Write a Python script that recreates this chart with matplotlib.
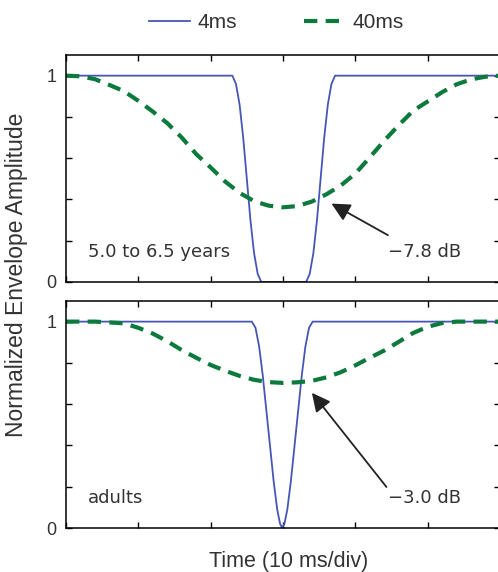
import numpy as np
import matplotlib as mpl
mpl.use('Agg')
import matplotlib.pyplot as plt

plt.rcParams['font.family'] = ['Liberation Sans', 'DejaVu Sans']

# time axis in ms (10 ms per division), amplitudes
t_4ms_child = [0, 23.0, 23.5, 24.0, 24.5, 25.0, 25.5, 26.0, 26.5, 27.0,
               33.2, 33.7, 34.2, 34.7, 35.2, 35.7, 36.2, 36.7, 37.2, 60]
a_4ms_child = [1, 1, 0.96, 0.86, 0.70, 0.50, 0.30, 0.14, 0.04, 0,
               0, 0.04, 0.14, 0.30, 0.50, 0.70, 0.86, 0.96, 1, 1]

t_40ms_child = [0, 2, 4, 6, 8, 10, 12, 14, 16, 18, 20, 22, 24, 26, 28, 30,
                32, 34, 36, 38, 40, 42, 44, 46, 48, 50, 52, 54, 56, 58, 60]
a_40ms_child = [1.0, 0.997, 0.983, 0.955, 0.925, 0.878, 0.826, 0.77, 0.70,
                0.62, 0.555, 0.487, 0.432, 0.392, 0.37, 0.362, 0.368, 0.39,
                0.425, 0.468, 0.525, 0.604, 0.685, 0.76, 0.83, 0.875, 0.92,
                0.958, 0.982, 0.995, 1.0]

t_4ms_adult = [0, 25.7, 26.2, 26.7, 27.2, 27.7, 28.2, 28.7, 29.2, 29.6, 29.9,
               30.2, 30.6, 31.1, 31.6, 32.1, 32.6, 33.1, 33.6, 34.1, 60]
a_4ms_adult = [1, 1, 0.97, 0.88, 0.74, 0.57, 0.40, 0.23, 0.09, 0.02, 0,
               0.02, 0.09, 0.23, 0.40, 0.57, 0.74, 0.88, 0.97, 1, 1]

t_40ms_adult = [0, 4, 8, 10, 12, 14, 16, 18, 20, 22, 24, 26, 28, 30, 32, 34,
                36, 38, 40, 42, 44, 46, 48, 50, 52, 54, 56, 60]
a_40ms_adult = [1.0, 1.0, 0.992, 0.97, 0.942, 0.905, 0.862, 0.825, 0.79,
                0.762, 0.737, 0.718, 0.707, 0.703, 0.706, 0.713, 0.73, 0.755,
                0.788, 0.825, 0.86, 0.902, 0.945, 0.975, 0.993, 1.0, 1.0, 1.0]

BLUE = '#4656b6'
GREEN = '#0b7a3c'
TXT = '#333333'


def style_axes(ax):
  ax.set_xlim(0, 60)
  ax.set_ylim(0, 1.1)
  ax.set_xticks(np.arange(0, 61, 10))
  ax.set_xticklabels([])
  ax.set_yticks(np.arange(0, 1.01, 0.2))
  ax.set_yticklabels(['0', '', '', '', '', '1'])
  ax.tick_params(direction='in', top=True, right=True, length=4, width=1,
                 labelsize=13, pad=7, colors='black', labelcolor=TXT)
  for sp in ax.spines.values():
    sp.set_linewidth(1.1)


def draw_panel(ax, t4, a4, t40, a40, label, db, tip, tail):
  ax.plot(t4, a4, color=BLUE, lw=1.3, label='4ms')
  ax.plot(t40, a40, color=GREEN, lw=3, ls=(0, (3.2, 2.0)), label='40ms')
  style_axes(ax)
  ax.text(3.0, 0.145, label, fontsize=13, color=TXT, family='DejaVu Sans',
          ha='left', va='center')
  ax.text(44.5, 0.147, db, fontsize=13, color=TXT, family='DejaVu Sans',
          ha='left', va='center')
  ax.annotate('', xy=tip, xytext=tail,
              arrowprops=dict(arrowstyle='-|>', color='#222222', lw=1.3,
                              mutation_scale=28, shrinkA=0, shrinkB=0))


fig = plt.figure(figsize=(4.98, 5.72), dpi=100)
ax_top = fig.add_axes([0.1325, 0.507, 0.8715, 0.3968])
ax_bot = fig.add_axes([0.1325, 0.0769, 0.8715, 0.3969])

draw_panel(ax_top, t_4ms_child, a_4ms_child, t_40ms_child, a_40ms_child,
           '5.0 to 6.5 years', '\u22127.8 dB', (36.7, 0.38), (44.5, 0.227))
draw_panel(ax_bot, t_4ms_adult, a_4ms_adult, t_40ms_adult, a_40ms_adult,
           'adults', '\u22123.0 dB', (34.0, 0.655), (44.3, 0.199))

handles, labels = ax_top.get_legend_handles_labels()
fig.legend(handles, labels, ncol=2, loc='center', bbox_to_anchor=(0.555, 0.96),
           frameon=False, fontsize=15, handlelength=2.0, handletextpad=0.35,
           columnspacing=3.2, labelcolor=TXT)

fig.text(0.034, 0.519, 'Normalized Envelope Amplitude', rotation=90,
         fontsize=16.5, color=TXT, ha='center', va='center')
fig.text(0.58, 0.0175, 'Time (10 ms/div)', fontsize=15.5, color=TXT,
         ha='center', va='center')

plt.savefig('out.png', dpi=100)
